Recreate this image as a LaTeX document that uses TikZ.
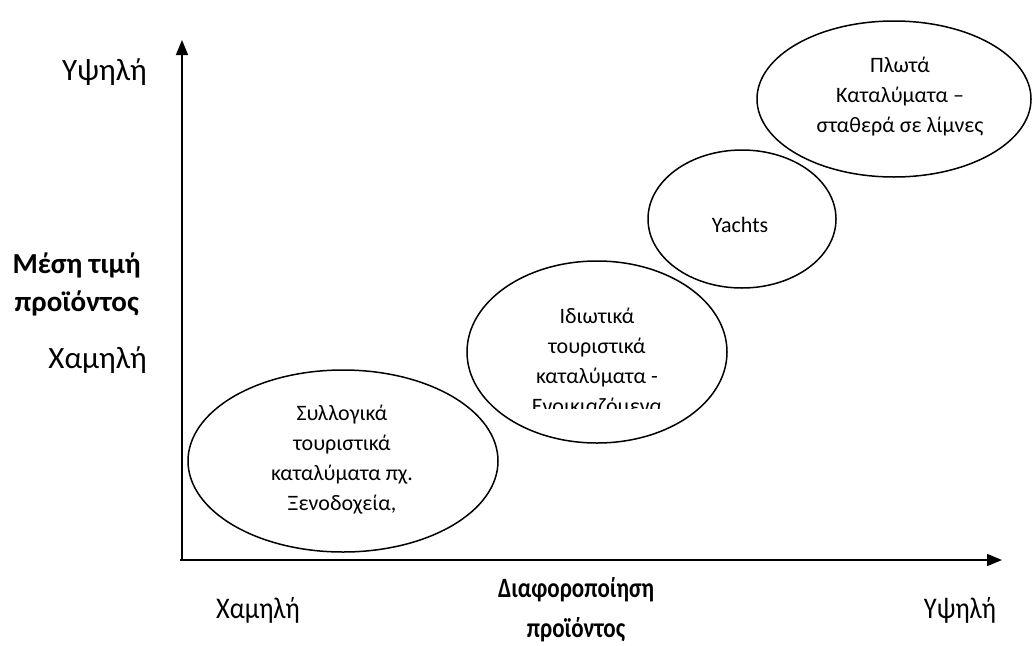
\documentclass[tikz,border=0pt]{standalone}
\usepackage{fontspec}
\setmainfont{Carlito}
\usetikzlibrary{arrows.meta,shapes.geometric}
\begin{document}
\begin{tikzpicture}[x=1pt,y=-1pt,
  oval/.style={draw, line width=1.5pt, ellipse, inner sep=0pt},
  otext/.style={align=center, inner sep=0pt, font=\fontsize{22}{30}\selectfont},
  axis/.style={line width=1.6pt, -{Triangle[length=15pt,width=12pt]}},
  lab/.style={font=\fontsize{31}{38}\selectfont, align=center, inner sep=0pt},
  blab/.style={font=\bfseries\fontsize{29}{38}\selectfont, align=center, inner sep=0pt},
  xlab/.style={font=\fontsize{30}{40}\selectfont, align=center, inner sep=0pt, xscale=0.88, transform shape},
  bxlab/.style={font=\bfseries\fontsize{28}{40}\selectfont, align=center, inner sep=0pt, xscale=0.82, transform shape}]
\useasboundingbox (0,0) rectangle (1035,645);
% axes
\coordinate (O) at (182,560);
\coordinate (ytip) at (182,40);
\coordinate (xtip) at (1002,560);
\coordinate (xs) at (180,560);
\draw[axis] (O) -- (ytip);
\draw[axis] (xs) -- (xtip);
% ellipses
\node[oval, minimum width=310pt, minimum height=182pt] (A) at (343,461) {};
\node[otext] (Atxt) at (342,460)
  {Συλλογικά\\τουριστικά\\καταλύματα πχ.\\Ξενοδοχεία,};
\node[oval, minimum width=260pt, minimum height=182pt] (B) at (597,352) {};
\begin{scope}
  \clip (450,280) rectangle (740,408);
  \node[otext] (Btxt) at (597,363)
    {Ιδιωτικά\\τουριστικά\\καταλύματα -\\Ενοικιαζόμενα};
\end{scope}
\node[oval, minimum width=188pt, minimum height=138pt] (C) at (742,219) {};
\node[otext] (Ctxt) at (740,225) {Yachts};
\node[oval, minimum width=274pt, minimum height=156pt] (D) at (894,99) {};
\node[otext] (Dtxt) at (900,97)
  {Πλωτά\\Καταλύματα –\\σταθερά σε λίμνες};
% axis labels
\node[lab, anchor=east] (yhigh) at (147,72) {Υψηλή};
\node[blab, anchor=east] (ytitle) at (141,284) {Μέση τιμή\\προϊόντος};
\node[lab, anchor=east] (ylow) at (147,360) {Χαμηλή};
\node[xlab] (xlow) at (258,610) {Χαμηλή};
\node[bxlab] (xtitle) at (576,610) {Διαφοροποίηση\\προϊόντος};
\node[xlab] (xhigh) at (960,610) {Υψηλή};
\end{tikzpicture}
\end{document}
